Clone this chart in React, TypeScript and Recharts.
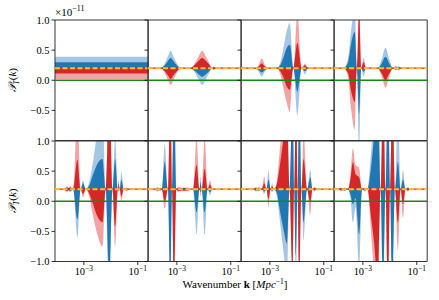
import { type FC } from "react";
import {
  ComposedChart,
  Area,
  XAxis,
  YAxis,
  ReferenceLine,
  ReferenceArea,
} from "recharts";

// rows: [log10 k, blue 95%, blue 68%, red 68%, red 95%]
// band values are offsets from the fiducial level, in units of 1e-11
type Row = [number, number, number, number, number];

const FIDUCIAL = 0.2;
const K_MIN = 8.5e-5;
const K_MAX = 0.243;
const X_TICKS = [1e-3, 1e-1];
const X_TICK_EXP = ["−3", "−1"];
const Y_TICKS_TOP = [-0.5, 0, 0.5, 1];
const Y_TICKS_BOTTOM = [-1, -0.5, 0, 0.5, 1];

const panel1: Row[] = [
  [-4.2, 0.19, 0.1, -0.09, -0.18],
  [-0.5, 0.19, 0.1, -0.09, -0.18],
];

const panel2: Row[] = [
  [-4.2, 0, 0, 0, 0],
  [-3.6, 0, 0, 0, 0],
  [-3.45, 0.08, 0.05, -0.05, -0.08],
  [-3.33, 0.2, 0.12, -0.12, -0.2],
  [-3.23, 0.29, 0.17, -0.18, -0.28],
  [-3.13, 0.2, 0.12, -0.12, -0.2],
  [-3.0, 0.08, 0.05, -0.05, -0.08],
  [-2.85, 0, 0, 0, 0],
  [-2.5, 0, 0, 0, 0],
  [-2.35, -0.06, -0.04, 0.05, 0.07],
  [-2.2, -0.18, -0.1, 0.12, 0.19],
  [-2.06, -0.28, -0.14, 0.17, 0.29],
  [-1.92, -0.18, -0.1, 0.12, 0.19],
  [-1.78, -0.06, -0.04, 0.05, 0.07],
  [-1.7, 0, 0, 0, 0],
  [-1.63, 0.03, 0.02, -0.02, -0.03],
  [-1.55, 0, 0, 0, 0],
  [-0.5, 0, 0, 0, 0],
];

const panel3: Row[] = [
  [-4.2, 0, 0, 0, 0],
  [-3.55, 0, 0, 0, 0],
  [-3.42, -0.05, -0.03, 0.03, 0.05],
  [-3.3, -0.14, -0.07, 0.08, 0.16],
  [-3.18, -0.05, -0.03, 0.03, 0.05],
  [-3.05, 0, 0, 0, 0],
  [-2.75, 0, 0, 0, 0],
  [-2.6, 0.12, 0.06, -0.06, -0.12],
  [-2.5, 0.33, 0.17, -0.15, -0.33],
  [-2.38, 0.61, 0.33, -0.3, -0.56],
  [-2.26, 0.75, 0.39, -0.36, -0.72],
  [-2.13, 0, 0, 0, 0],
  [-1.98, -0.79, -0.39, 0.42, 0.9],
  [-1.82, 0, 0, 0, 0],
  [-1.7, -0.1, -0.05, 0.05, 0.08],
  [-1.58, 0, 0, 0, 0],
  [-0.5, 0, 0, 0, 0],
];

const panel4: Row[] = [
  [-4.2, 0, 0, 0, 0],
  [-3.72, 0, 0, 0, 0],
  [-3.55, 0.17, 0.1, -0.08, -0.14],
  [-3.43, 0.65, 0.42, -0.39, -0.7],
  [-3.3, 1.0, 0.6, -0.56, -1.03],
  [-3.22, 0, 0, 0, 0],
  [-3.14, -1.4, -0.75, 0.95, 1.1],
  [-3.06, 0, 0, 0, 0],
  [-2.97, -0.14, -0.06, 0.1, 0.17],
  [-2.88, 0, 0, 0, 0],
  [-2.45, 0, 0, 0, 0],
  [-2.3, 0.15, 0.08, -0.09, -0.14],
  [-2.16, 0.34, 0.19, -0.2, -0.32],
  [-2.02, 0.15, 0.08, -0.09, -0.14],
  [-1.88, 0, 0, 0, 0],
  [-1.78, -0.04, -0.02, 0.02, 0.04],
  [-1.68, 0.04, 0.02, -0.02, -0.04],
  [-1.58, 0, 0, 0, 0],
  [-0.5, 0, 0, 0, 0],
];

const panel5: Row[] = [
  [-4.2, 0, 0, 0, 0],
  [-3.75, 0, 0, 0, 0],
  [-3.63, 0.05, 0.03, -0.03, -0.05],
  [-3.5, -0.05, -0.03, 0.03, 0.05],
  [-3.4, 0, 0, 0, 0],
  [-3.24, -0.8, -0.5, 0.49, 1.3],
  [-3.12, 0, 0, 0, 0],
  [-3.03, 0.15, 0.1, -0.08, -0.14],
  [-2.93, 0, 0, 0, 0],
  [-2.8, 0.12, 0.06, -0.07, -0.12],
  [-2.68, 0.4, 0.22, -0.22, -0.4],
  [-2.5, 0.95, 0.42, -0.45, -0.75],
  [-2.31, 1.3, 0.5, -0.55, -0.95],
  [-2.19, 0, 0, 0, 0],
  [-2.06, -2.0, -1.4, 1.6, 2.0],
  [-1.94, 0, 0, 0, 0],
  [-1.84, 0.85, 0.5, -0.62, -0.95],
  [-1.74, 0, 0, 0, 0],
  [-1.71, -0.05, -0.03, 0.1, 0.15],
  [-1.67, 0, 0, 0, 0],
  [-1.61, 0.29, 0.16, -0.12, -0.2],
  [-1.52, 0, 0, 0, 0],
  [-1.42, 0.03, 0.02, -0.02, -0.03],
  [-1.32, 0, 0, 0, 0],
  [-0.5, 0, 0, 0, 0],
];

const panel6: Row[] = [
  [-4.2, 0, 0, 0, 0],
  [-3.82, 0, 0, 0, 0],
  [-3.72, 0.04, 0.02, -0.02, -0.04],
  [-3.62, -0.03, -0.02, 0.02, 0.03],
  [-3.56, 0, 0, 0, 0],
  [-3.45, 0.75, 0.45, -0.2, -0.32],
  [-3.33, 0, 0, 0, 0],
  [-3.24, -2.0, -1.6, 1.6, 2.0],
  [-3.18, 0, 0, 0, 0],
  [-3.11, 2.0, 1.6, -1.6, -2.0],
  [-3.02, 0, 0, 0, 0],
  [-2.95, 0.04, 0.02, -0.03, -0.05],
  [-2.85, 0.03, 0.02, -0.02, -0.03],
  [-2.6, 0.03, 0.02, -0.02, -0.03],
  [-2.5, 0, 0, 0, 0],
  [-2.4, 0, 0, 0, 0],
  [-2.27, -0.75, -0.38, 0.4, 0.85],
  [-2.16, 0, 0, 0, 0],
  [-2.12, 0.24, 0.12, -0.05, -0.12],
  [-2.08, 0, 0, 0, 0],
  [-1.97, -0.75, -0.38, 0.34, 0.85],
  [-1.86, 0, 0, 0, 0],
  [-1.77, -0.1, -0.05, 0.08, 0.15],
  [-1.68, 0, 0, 0, 0],
  [-0.5, 0, 0, 0, 0],
];

const panel7: Row[] = [
  [-4.2, 0, 0, 0, 0],
  [-3.6, 0, 0, 0, 0],
  [-3.52, 0.04, 0.02, -0.02, -0.04],
  [-3.42, -0.04, -0.02, 0.02, 0.04],
  [-3.3, 0, 0, 0, 0],
  [-3.21, -0.08, -0.04, 0.1, 0.21],
  [-3.13, 0, 0, 0, 0],
  [-3.05, 0.31, 0.16, -0.16, -0.29],
  [-2.97, 0, 0, 0, 0],
  [-2.92, -0.05, -0.03, 0.05, 0.1],
  [-2.85, 0, 0, 0, 0],
  [-2.75, -0.1, -0.05, 0.07, 0.12],
  [-2.61, -0.6, -0.4, 0.45, 0.75],
  [-2.48, -1.1, -0.7, 0.9, 1.3],
  [-2.37, -1.5, -0.9, 1.3, 1.6],
  [-2.27, 0, 0, 0, 0],
  [-2.16, 1.8, 1.5, -1.3, -1.6],
  [-2.1, 0, 0, 0, 0],
  [-2.03, -1.6, -1.1, 1.5, 1.8],
  [-1.97, 0, 0, 0, 0],
  [-1.91, 1.8, 1.5, -1.5, -1.8],
  [-1.83, 0, 0, 0, 0],
  [-1.75, -0.85, -0.55, 0.5, 0.95],
  [-1.62, 0, 0, 0, 0],
  [-1.5, 0.32, 0.2, -0.22, -0.42],
  [-1.42, 0, 0, 0, 0],
  [-1.35, -0.04, -0.02, 0.02, 0.04],
  [-1.28, 0, 0, 0, 0],
  [-0.5, 0, 0, 0, 0],
];

const panel8: Row[] = [
  [-4.2, 0, 0, 0, 0],
  [-3.9, 0, 0, 0, 0],
  [-3.8, 0.03, 0.02, -0.02, -0.03],
  [-3.68, -0.03, -0.02, 0.02, 0.03],
  [-3.55, 0, 0, 0, 0],
  [-3.45, -0.2, -0.1, 0.2, 0.3],
  [-3.37, -0.55, -0.25, 0.45, 0.68],
  [-3.27, -0.3, -0.15, 0.25, 0.4],
  [-3.14, -1.3, -0.75, 0.2, 0.35],
  [-3.03, 0, 0, 0, 0],
  [-2.93, 0.03, 0.02, -0.02, -0.04],
  [-2.83, 0, 0, 0, 0],
  [-2.7, 0.6, 0.35, -0.45, -0.7],
  [-2.58, 1.3, 0.9, -0.9, -1.4],
  [-2.45, 1.9, 1.6, -1.5, -1.9],
  [-2.34, 0, 0, 0, 0],
  [-2.25, -1.9, -1.6, 1.6, 1.9],
  [-2.16, 0, 0, 0, 0],
  [-2.07, 1.9, 1.6, -1.6, -1.9],
  [-1.99, 0, 0, 0, 0],
  [-1.91, -1.9, -1.6, 1.6, 1.9],
  [-1.81, 0, 0, 0, 0],
  [-1.7, 1.3, 0.45, -0.55, -1.0],
  [-1.6, 0, 0, 0, 0],
  [-1.51, 0.32, 0.16, -0.25, -0.48],
  [-1.42, 0, 0, 0, 0],
  [-1.33, 0.04, 0.02, -0.02, -0.04],
  [-1.25, 0, 0, 0, 0],
  [-0.5, 0, 0, 0, 0],
];

const panels = [panel1, panel2, panel3, panel4, panel5, panel6, panel7, panel8];

// colours
const BLUE = "#1f77b4";
const BLUE_LIGHT = "#a6c6e6";
const RED = "#d62728";
const RED_LIGHT = "#f4a3a4";
const GREEN = "#138a13";
const YELLOW = "#fbc02d";
const FONT = "'Liberation Serif', 'DejaVu Serif', serif";

// layout (plot area of each panel)
const PLOT_X0 = 54.5;
const PLOT_Y0 = 20;
const PW = 93.2;
const PH = 120.5;
const ML = 50;
const MR = 4;
const MT = 4;
const MB = 24;

const band = (v: number) =>
  v < 0 ? [FIDUCIAL + v, FIDUCIAL] : [FIDUCIAL, FIDUCIAL + v];

const toData = (rows: Row[]) =>
  rows.map(([lk, b95, b68, r68, r95]) => ({
    k: Math.pow(10, lk),
    b95: band(b95),
    b68: band(b68),
    r68: band(r68),
    r95: band(r95),
  }));

const fmtY = (v: number) => (v < 0 ? "−" : "") + Math.abs(v).toFixed(1);

const YTick = (props: any) => {
  const { x, y, payload } = props;
  return (
    <text
      x={x}
      y={y}
      textAnchor="end"
      dominantBaseline="central"
      fontSize={10.5}
      fontFamily={FONT}
      fill="#000"
    >
      {fmtY(payload.value)}
    </text>
  );
};

const XTick = (props: any) => {
  const { x, y, payload } = props;
  const i = X_TICKS.indexOf(payload.value);
  return (
    <text
      x={x}
      y={y + 8.5}
      textAnchor="middle"
      fontSize={10.5}
      fontFamily={FONT}
      fill="#000"
    >
      10
      <tspan dy={-4.5} fontSize={7.5}>
        {X_TICK_EXP[i]}
      </tspan>
    </text>
  );
};

const NoTick = () => <g />;

type PanelProps = { rows: Row[]; col: number; row: number };

const Panel: FC<PanelProps> = ({ rows, col, row }) => {
  const left = PLOT_X0 + col * PW;
  const top = PLOT_Y0 + row * PH;
  const bottomRow = row === 1;
  return (
    <div style={{ position: "absolute", left: left - ML, top: top - MT }}>
      <ComposedChart
        width={ML + PW + MR}
        height={MT + PH + MB}
        data={toData(rows)}
        margin={{ top: MT, right: MR, bottom: bottomRow ? 0 : MB, left: 0 }}
      >
        <XAxis
          dataKey="k"
          type="number"
          scale="log"
          domain={[K_MIN, K_MAX]}
          allowDataOverflow
          ticks={X_TICKS}
          interval={0}
          hide={!bottomRow}
          height={MB}
          tickSize={3.5}
          axisLine={false}
          tickLine={{ stroke: "#000", strokeWidth: 0.8 }}
          tick={<XTick />}
        />
        <YAxis
          type="number"
          domain={[-1, 1]}
          allowDataOverflow
          ticks={bottomRow ? Y_TICKS_BOTTOM : Y_TICKS_TOP}
          interval={0}
          width={ML}
          tickSize={3.5}
          axisLine={false}
          tickLine={{ stroke: "#000", strokeWidth: 0.8 }}
          tick={col === 0 ? <YTick /> : <NoTick />}
        />
        <Area
          dataKey="b95"
          type="monotone"
          stroke="none"
          fill={BLUE_LIGHT}
          fillOpacity={1}
          isAnimationActive={false}
          activeDot={false}
        />
        <Area
          dataKey="r95"
          type="monotone"
          stroke="none"
          fill={RED_LIGHT}
          fillOpacity={1}
          isAnimationActive={false}
          activeDot={false}
        />
        <Area
          dataKey="b68"
          type="monotone"
          stroke="none"
          fill={BLUE}
          fillOpacity={1}
          isAnimationActive={false}
          activeDot={false}
        />
        <Area
          dataKey="r68"
          type="monotone"
          stroke="none"
          fill={RED}
          fillOpacity={1}
          isAnimationActive={false}
          activeDot={false}
        />
        <ReferenceLine y={0} stroke={GREEN} strokeWidth={1.6} />
        <ReferenceLine y={FIDUCIAL} stroke={RED} strokeWidth={1.2} />
        <ReferenceLine
          y={FIDUCIAL}
          stroke={YELLOW}
          strokeWidth={2}
          strokeDasharray="5 2.5"
        />
        <ReferenceArea
          x1={K_MIN}
          x2={K_MAX}
          y1={-1}
          y2={1}
          fill="none"
          fillOpacity={0}
          stroke="#333"
          strokeWidth={1}
        />
      </ComposedChart>
    </div>
  );
};

const App: FC = () => {
  return (
    <div
      style={{
        position: "absolute",
        left: 0,
        top: 0,
        width: 439,
        height: 300,
        background: "#fff",
        overflow: "hidden",
      }}
    >
      {panels.map((rows, i) => (
        <Panel key={i} rows={rows} col={i % 4} row={Math.floor(i / 4)} />
      ))}
      <svg
        width={439}
        height={300}
        style={{ position: "absolute", left: 0, top: 0, pointerEvents: "none" }}
        fontFamily={FONT}
      >
        <text x={55} y={16} fontSize={11} fill="#000">
          ×10
          <tspan dy={-5} fontSize={8}>
            −11
          </tspan>
        </text>
        {[0, 1].map((r) => (
          <text
            key={r}
            transform={`translate(16, ${PLOT_Y0 + r * PH + PH / 2}) rotate(-90)`}
            textAnchor="middle"
            fontSize={11}
            fill="#000"
          >
            <tspan fontStyle="italic">𝒫</tspan>
            <tspan dy={2.5} fontSize={7.5} fontStyle="italic">
              T
            </tspan>
            <tspan dy={-2.5}>(</tspan>
            <tspan fontStyle="italic">k</tspan>
            <tspan>)</tspan>
          </text>
        ))}
        <text x={235} y={288} textAnchor="middle" fontSize={11} fill="#000">
          Wavenumber <tspan fontWeight="bold">k</tspan> [
          <tspan fontStyle="italic">Mpc</tspan>
          <tspan dy={-4.5} fontSize={7.5}>
            −1
          </tspan>
          <tspan dy={4.5}>]</tspan>
        </text>
      </svg>
    </div>
  );
};

export default App;
